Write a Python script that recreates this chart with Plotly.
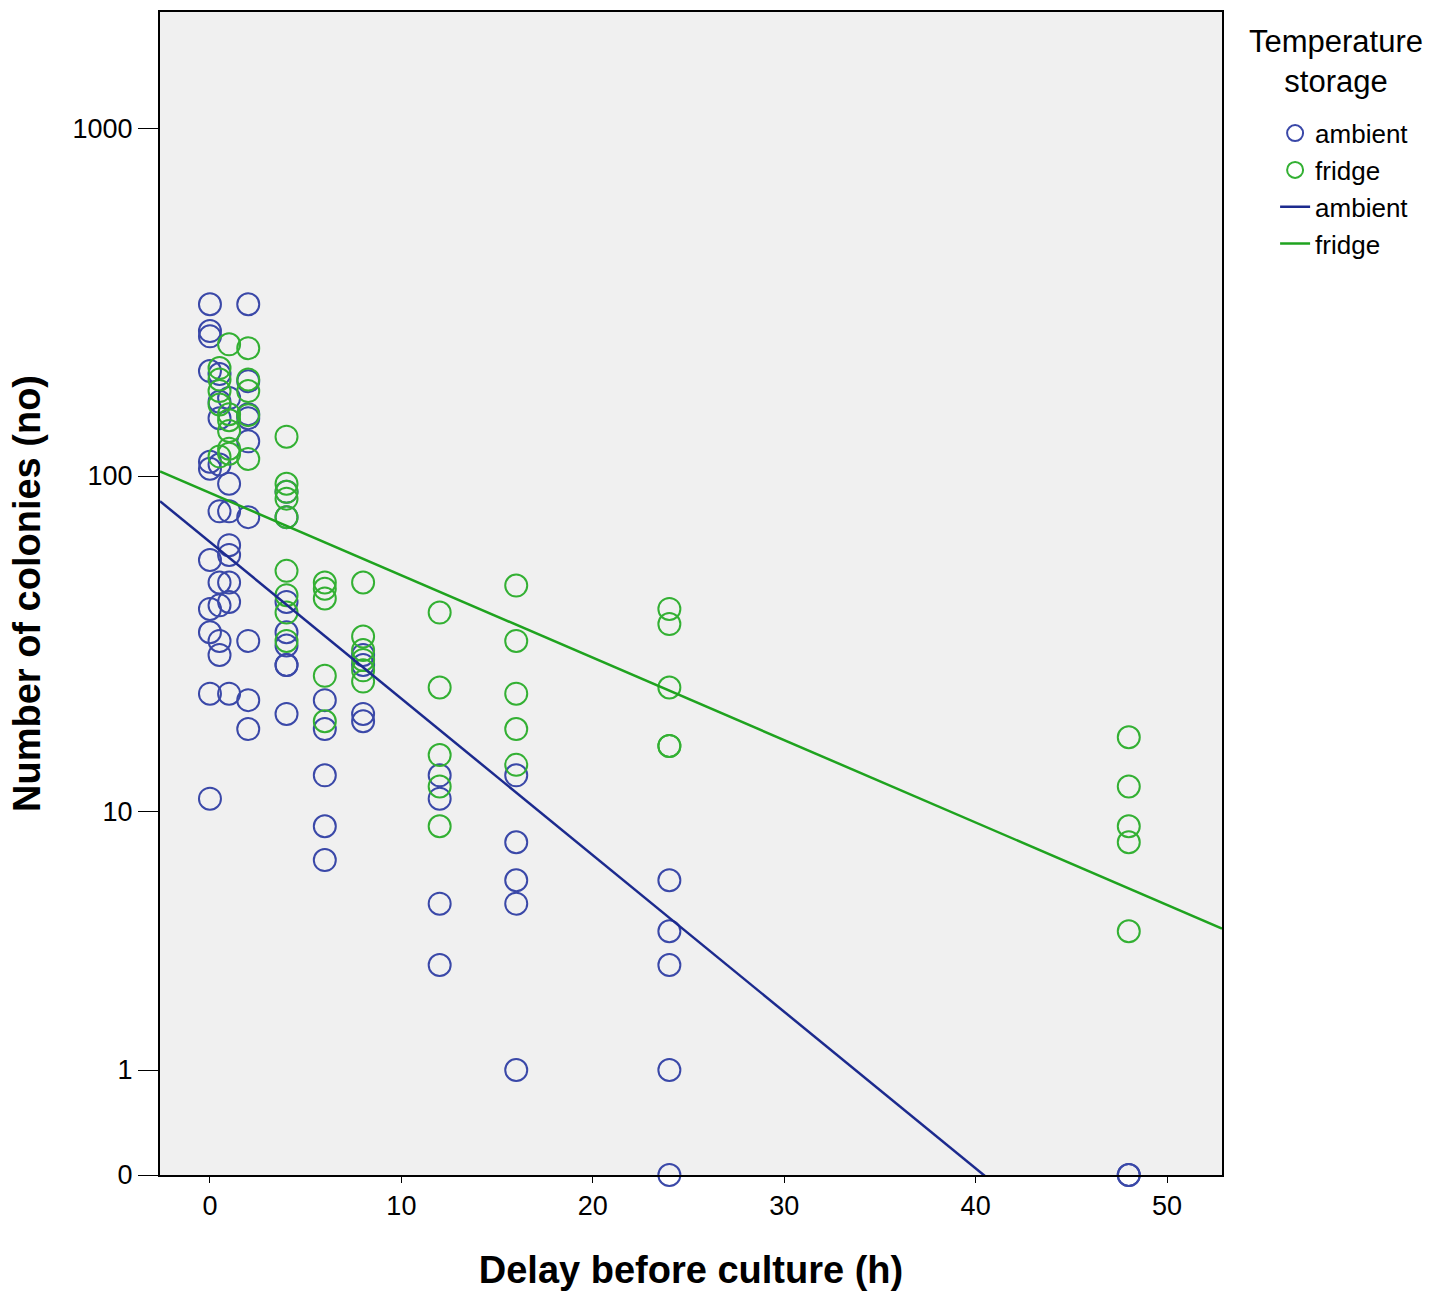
import numpy as np
import plotly.graph_objects as go

# Colony counts by delay before culture (h), per storage temperature
ambient_delay = ([0] * 11 + [0.5] * 9 + [1] * 8 + [2] * 9 + [4] * 8 +
                 [6] * 5 + [8] * 4 + [12] * 4 + [16] * 5 + [24] * 5 + [48] * 2)
ambient_colonies = [313, 262, 253, 201, 110, 105, 57, 41, 35, 23, 11,
                    197, 164, 147, 108, 79, 49, 42, 33, 30,
                    168, 95, 79, 63, 59, 49, 43, 23,
                    313, 188, 151, 147, 126, 76, 33, 22, 18,
                    90, 76, 43, 35, 32, 28, 28, 20,
                    22, 18, 13, 9, 7,
                    30, 28, 20, 19,
                    13, 11, 5, 3,
                    13, 8, 6, 5, 1,
                    6, 4, 3, 1, 0,
                    0, 0]

fridge_delay = ([0.5] * 5 + [1] * 6 + [2] * 5 + [4] * 9 + [6] * 5 +
                [8] * 6 + [12] * 5 + [16] * 5 + [24] * 5 + [48] * 5)
fridge_colonies = [205, 190, 176, 161, 114,
                   240, 151, 145, 135, 120, 116,
                   234, 190, 176, 150, 112,
                   130, 95, 90, 86, 76, 53, 45, 40, 33,
                   49, 47, 44, 26, 19,
                   49, 34, 31, 29, 27, 25,
                   40, 24, 15, 12, 9,
                   48, 33, 23, 18, 14,
                   41, 37, 24, 16, 16,
                   17, 12, 9, 8, 4]

# Linear fits on the safe-log scale: log10(colonies + 1) = intercept + slope * delay
fit_groups = ["ambient", "fridge"]
fit_intercept = [1.815, 1.956]
fit_slope = [-0.0449, -0.02363]

x_range = [-2.61, 52.87]
x_ticks = [0, 10, 20, 30, 40, 50]
y_tick_counts = [0, 1, 10, 100, 1000]

marker_colors = {"ambient": "#3a48a8", "fridge": "#33b033"}
line_colors = {"ambient": "#1c2a8e", "fridge": "#1fa31f"}

fig = go.Figure()

# Safe-log axis: counts are shifted by one so that zero counts sit on the axis
for name, xs, ys in [("ambient", ambient_delay, ambient_colonies),
                     ("fridge", fridge_delay, fridge_colonies)]:
    fig.add_trace(go.Scatter(
        x=xs, y=np.array(ys) + 1, mode="markers", name=name,
        customdata=ys, hovertemplate="%{x} h: %{customdata}<extra></extra>",
        marker=dict(symbol="circle-open", size=22,
                    line=dict(width=2, color=marker_colors[name]),
                    color=marker_colors[name]),
        cliponaxis=False,
    ))

fit_x = np.array(x_range)
for name, a, b in zip(fit_groups, fit_intercept, fit_slope):
    fig.add_trace(go.Scatter(
        x=fit_x, y=10 ** (a + b * fit_x), mode="lines", name=name,
        line=dict(color=line_colors[name], width=2.5),
        hoverinfo="skip",
    ))

font_family = "Liberation Sans, Arial, sans-serif"

fig.update_layout(
    width=1450, height=1295,
    margin=dict(l=160, r=228, t=10, b=120),
    paper_bgcolor="white",
    plot_bgcolor="#f0f0f0",
    font=dict(family=font_family, color="black", size=26),
    showlegend=True,
    legend=dict(
        x=1.05, xanchor="left", y=0.916, yanchor="top",
        font=dict(size=26, family=font_family),
        itemwidth=30, tracegroupgap=0,
        bgcolor="rgba(0,0,0,0)",
    ),
    annotations=[dict(
        text="Temperature<br>storage", x=1.1074, y=0.9575,
        xref="paper", yref="paper", xanchor="center", yanchor="middle",
        align="center", showarrow=False,
        font=dict(size=31, family=font_family),
    )],
    xaxis=dict(
        range=x_range, tickvals=x_ticks, ticktext=[str(t) for t in x_ticks],
        showgrid=False, zeroline=False,
        showline=True, linecolor="black", linewidth=2, mirror=True,
        ticks="outside", ticklen=6, tickcolor="black",
        tickfont=dict(size=27),
        title=dict(text="<b>Delay before culture (h)</b>",
                   font=dict(size=38), standoff=36),
    ),
    yaxis=dict(
        type="log", range=[0, 3.335],
        tickvals=[c + 1 for c in y_tick_counts],
        ticktext=[str(c) for c in y_tick_counts],
        showgrid=False, zeroline=False,
        showline=True, linecolor="black", linewidth=2, mirror=True,
        ticks="outside", ticklen=20, tickcolor="black",
        tickfont=dict(size=27),
        title=dict(text="<b>Number of colonies (no)</b>",
                   font=dict(size=38), standoff=20),
    ),
)

fig.write_html("out.html")
